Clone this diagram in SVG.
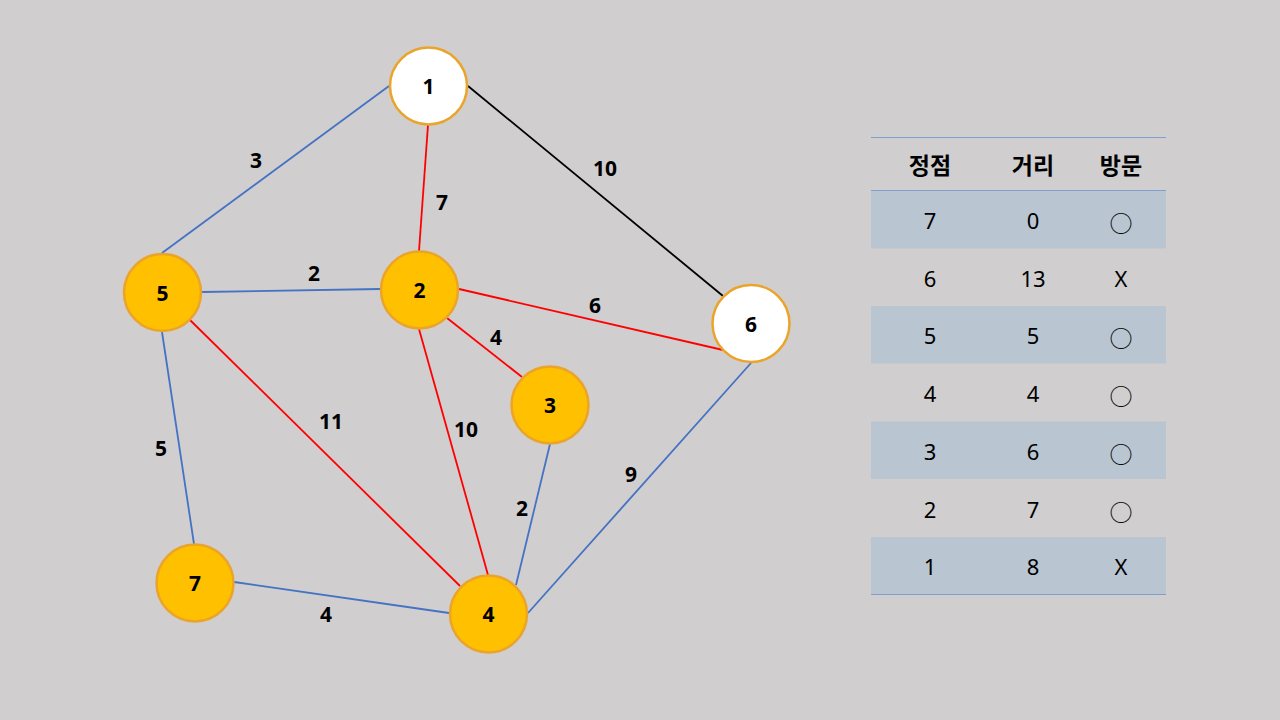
<svg xmlns="http://www.w3.org/2000/svg" width="1280" height="720" viewBox="0 0 1280 720">
<style>
.node circle{stroke:#EBA42A;stroke-width:2.5}
.y{fill:#FFC000}
.w{fill:#FFFFFF}
.nl{font-family:"Noto Sans","Noto Sans CJK KR",sans-serif;font-weight:bold;font-size:21px;fill:#000;text-anchor:middle;dominant-baseline:central}
.el{font-family:"Noto Sans","Noto Sans CJK KR",sans-serif;font-weight:bold;font-size:21px;fill:#000;text-anchor:middle;dominant-baseline:central}
.b{stroke:#4472C4;stroke-width:1.8}
.r{stroke:#FF0000;stroke-width:1.8}
.k{stroke:#000000;stroke-width:1.8}
.th{font-family:"Noto Sans CJK KR",sans-serif;font-weight:bold;font-size:23px;fill:#000;text-anchor:middle;dominant-baseline:central}
.td{font-family:"Noto Sans","Noto Sans CJK KR",sans-serif;font-size:22px;fill:#000;text-anchor:middle;dominant-baseline:central}
.o{font-family:"Noto Sans CJK KR",sans-serif;font-size:23px;fill:#000;text-anchor:middle;dominant-baseline:central}
.sh{fill:#B9C5D1}
.tl{stroke:#7FA0CC;stroke-width:1.2}
</style>
<rect width="1280" height="720" fill="#D0CECE"/>
<g id="connectors" fill="none">
<line class="b" x1="389" y1="86" x2="162" y2="253"/>
<line class="r" x1="428" y1="125" x2="419" y2="251"/>
<line class="k" x1="468" y1="86" x2="723" y2="296"/>
<line class="b" x1="202" y1="292" x2="380" y2="289"/>
<line class="r" x1="459" y1="289" x2="723" y2="350"/>
<line class="r" x1="447" y1="318" x2="522" y2="377"/>
<line class="r" x1="419" y1="329" x2="488" y2="575"/>
<line class="r" x1="190" y1="320" x2="460" y2="586"/>
<line class="b" x1="162" y1="332" x2="194" y2="544"/>
<line class="b" x1="234" y1="582" x2="449" y2="613"/>
<line class="b" x1="550" y1="444" x2="516" y2="585"/>
<line class="b" x1="751" y1="363" x2="528" y2="613"/>
</g>
<g id="edge-labels">
<text class="el" x="256" y="160">3</text>
<text class="el" x="442" y="202">7</text>
<text class="el" x="605" y="168">10</text>
<text class="el" x="314" y="273">2</text>
<text class="el" x="595" y="305">6</text>
<text class="el" x="496" y="337">4</text>
<text class="el" x="331" y="421">11</text>
<text class="el" x="466" y="429">10</text>
<text class="el" x="161" y="448">5</text>
<text class="el" x="522" y="508">2</text>
<text class="el" x="631" y="474">9</text>
<text class="el" x="326" y="614">4</text>
</g>
<g id="node1" class="node"><circle class="w" cx="428.5" cy="86" r="38.5"/><text class="nl" x="428.5" y="86">1</text></g>
<g id="node2" class="node"><circle class="y" cx="419.5" cy="290" r="38.5"/><text class="nl" x="419.5" y="290">2</text></g>
<g id="node3" class="node"><circle class="y" cx="550" cy="405" r="38.5"/><text class="nl" x="550" y="405">3</text></g>
<g id="node4" class="node"><circle class="y" cx="488.5" cy="614" r="38.5"/><text class="nl" x="488.5" y="614">4</text></g>
<g id="node5" class="node"><circle class="y" cx="162.5" cy="292.5" r="38.5"/><text class="nl" x="162.5" y="292.5">5</text></g>
<g id="node6" class="node"><circle class="w" cx="751" cy="323.5" r="38.5"/><text class="nl" x="751" y="323.5">6</text></g>
<g id="node7" class="node"><circle class="y" cx="195" cy="583" r="38.5"/><text class="nl" x="195" y="583">7</text></g>
<g id="table">
<rect class="sh" x="871" y="191" width="295" height="57.5"/>
<rect class="sh" x="871" y="306" width="295" height="57.5"/>
<rect class="sh" x="871" y="421.5" width="295" height="57.5"/>
<rect class="sh" x="871" y="537" width="295" height="57.5"/>
<line class="tl" x1="871" y1="137.5" x2="1166" y2="137.5"/>
<line class="tl" x1="871" y1="190.5" x2="1166" y2="190.5"/>
<line class="tl" x1="871" y1="594.5" x2="1166" y2="594.5"/>
<text class="th" x="930" y="164">정점</text>
<text class="th" x="1033" y="164">거리</text>
<text class="th" x="1121" y="164">방문</text>
<text class="td" x="930" y="220">7</text><text class="td" x="1033" y="220">0</text><text class="o" x="1121" y="222">○</text>
<text class="td" x="930" y="278">6</text><text class="td" x="1033" y="278">13</text><text class="td" x="1121" y="278">X</text>
<text class="td" x="930" y="335">5</text><text class="td" x="1033" y="335">5</text><text class="o" x="1121" y="337">○</text>
<text class="td" x="930" y="393">4</text><text class="td" x="1033" y="393">4</text><text class="o" x="1121" y="395">○</text>
<text class="td" x="930" y="451">3</text><text class="td" x="1033" y="451">6</text><text class="o" x="1121" y="453">○</text>
<text class="td" x="930" y="509">2</text><text class="td" x="1033" y="509">7</text><text class="o" x="1121" y="511">○</text>
<text class="td" x="930" y="566">1</text><text class="td" x="1033" y="566">8</text><text class="td" x="1121" y="566">X</text>
</g>
</svg>
